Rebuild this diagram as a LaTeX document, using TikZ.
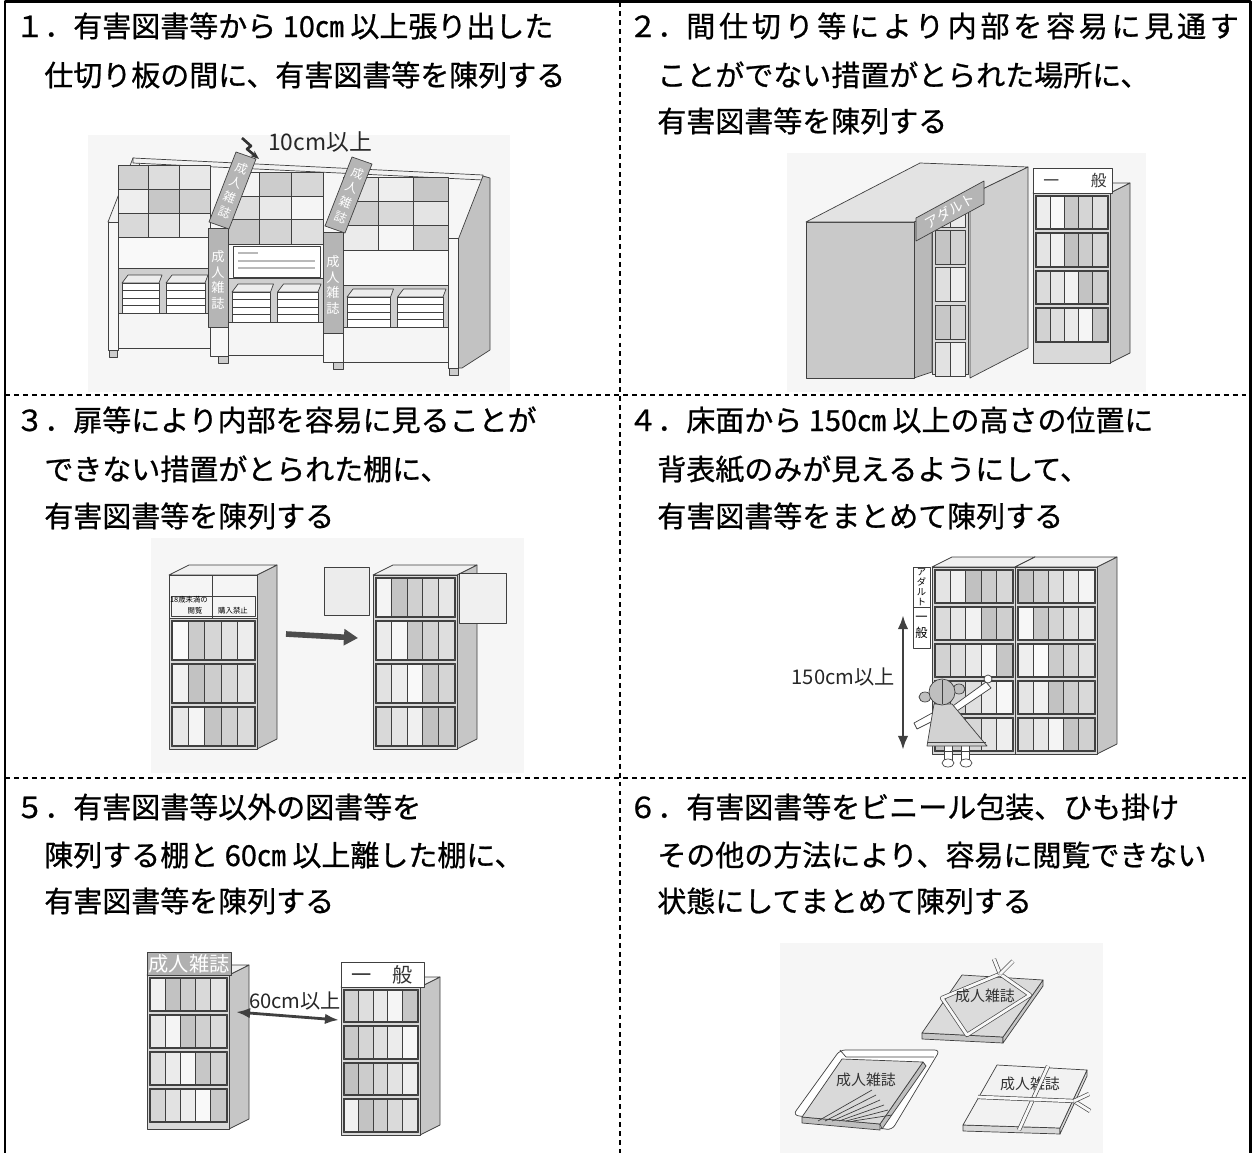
\documentclass[tikz,border=0pt]{standalone}
\usepackage{fontspec}
\setmainfont{Noto Sans CJK JP}
\newfontfamily\headfamily[FakeBold=0.8]{Noto Sans CJK JP}
\newfontfamily\spacedfont[LetterSpace=13, FakeBold=0.8]{Noto Sans CJK JP}
\usetikzlibrary{arrows.meta, positioning}

\newcommand{\headfont}{\headfamily\fontsize{16.5pt}{20pt}\selectfont}
\newcommand{\labfont}{\fontsize{11.5pt}{13pt}\selectfont}

\newcommand{\cabinet}[7]{%
  \pgfmathsetmacro{\cabh}{#4*#5+#7}
  \filldraw[edge, fill=gray!45] (#1+#3,#2) -- ++(20,-10) -- ++(0,\cabh) -- ++(-20,10) -- cycle;
  \filldraw[edge, fill=gray!12] (#1,#2) -- ++(20,-10) -- ++(#3,0) -- ++(-20,10) -- cycle;
  \filldraw[edge, fill=gray!30] (#1,#2) rectangle ++(#3,\cabh);
  \foreach \rw in {1,...,#4}{
    \draw[edge] (#1+2,{#2+2+(\rw-1)*#5}) rectangle ++(#3-4,#5-3);
    \foreach \bk in {1,...,5}{
      \pgfmathtruncatemacro{\tone}{mod(\bk*37+\rw*53+#6*29,46)+4}
      \filldraw[edge, fill=gray!\tone] ({#1+3+(\bk-1)*(#3-6)/5},{#2+3+(\rw-1)*#5}) rectangle ++({(#3-6)/5},#5-5);
    }
  }
}

\begin{document}
\begin{tikzpicture}[x=0.02cm, y=-0.02cm, line join=round,
    head/.style={anchor=base west, inner sep=0pt, font=\headfont},
    lab/.style={inner sep=0pt, font=\labfont, text=black!85},
    edge/.style={draw=black!75, line width=0.4pt},
    bgpaper/.style={fill=gray!7},
    vtext/.style={align=center, inner sep=0pt},
    pkglab/.style={inner sep=0pt, font=\fontsize{8.5pt}{10pt}\selectfont, text=black!80},
    ribbon/.style={draw=black!70, double=gray!6, double distance=1.6pt, line width=0.4pt},
    fatarrow/.style={draw=black!70, line width=3.2pt, -{Triangle[length=8pt, width=9pt]}},
    gaparrow/.style={draw=black!75, line width=1.6pt, {Latex[length=8pt, width=6pt]}-{Latex[length=8pt, width=6pt]}},
    divider/.style={draw=black, line width=1pt, dash pattern=on 2.8pt off 2.3pt},
    frame/.style={draw=black, line width=1.4pt}]

\useasboundingbox (0,0) rectangle (1252,1153);

% texts
\node[head] (h1a) at (15,37) {１．有害図書等から 10㎝ 以上張り出した};
\node[head] (h1b) at (44,86) {仕切り板の間に、有害図書等を陳列する};
\node[head] (h2a) at (628,37) {２．{\spacedfont 間仕切り等により内部を容易に見通す}};
\node[head] (h2b) at (657,86) {ことがでない措置がとられた場所に、};
\node[head] (h2c) at (657,132) {有害図書等を陳列する};
\node[head] (h3a) at (15,431) {３．扉等により内部を容易に見ることが};
\node[head] (h3b) at (44,480) {できない措置がとられた棚に、};
\node[head] (h3c) at (44,527) {有害図書等を陳列する};
\node[head] (h4a) at (628,431) {４．床面から 150㎝ 以上の高さの位置に};
\node[head] (h4b) at (657,480) {背表紙のみが見えるようにして、};
\node[head] (h4c) at (657,527) {有害図書等をまとめて陳列する};
\node[head] (h5a) at (15,818) {５．有害図書等以外の図書等を};
\node[head] (h5b) at (44,866) {陳列する棚と 60㎝ 以上離した棚に、};
\node[head] (h5c) at (44,912) {有害図書等を陳列する};
\node[head] (h6a) at (628,818) {６．有害図書等をビニール包装、ひも掛け};
\node[head] (h6b) at (657,866) {その他の方法により、容易に閲覧できない};
\node[head] (h6c) at (657,912) {状態にしてまとめて陳列する};

% 1: magazine rack
\fill[bgpaper] (88,135) rectangle (510,392);
\filldraw[edge, fill=gray!10] (108,222) -- (133,158) -- (141,160) -- (118,224) -- cycle;
\filldraw[edge, fill=gray!10] (133,158) -- (483,175) -- (483,180) -- (133,163) -- cycle;
\foreach \xa/\xb/\ya/\yb/\yc/\yd/\ye/\yf/\yg [count=\bay] in
    {118/210/165/189/213/237/268/313/348, 228/323/172/196/219/244/278/322/355, 343/448/177/201/225/250/285/327/362}{
  \foreach \ta/\tb [count=\rw] in {\ya/\yb,\yb/\yc,\yc/\yd}{
    \foreach \m in {0,1,2}{
      \pgfmathtruncatemacro{\tone}{mod(\m*31+\rw*17+\bay*13,40)+6}
      \filldraw[edge, fill=gray!\tone] ({\xa+(\xb-\xa)*\m/3},\ta) rectangle ({\xa+(\xb-\xa)*(\m+1)/3},\tb);
    }
  }
  \filldraw[edge, fill=gray!5] (\xa,\yd) rectangle (\xb,\ye);
  \filldraw[edge, fill=gray!38] (\xa,\ye) rectangle (\xb,\yf);
  \filldraw[edge, fill=gray!8] (\xa,\yf) rectangle (\xb,\yg);
  \foreach \sa/\sb in {{\xa+4}/{(\xa+\xb)/2-2}, {(\xa+\xb)/2+2}/{\xb-2}}{
    \filldraw[edge, fill=gray!14] ({\sa},\yf-30) -- ({\sa+6},\yf-38) -- ({\sb},\yf-38) -- ({\sb-3},\yf-30) -- cycle;
    \filldraw[edge, fill=white] ({\sa},\yf-30) rectangle ({\sb-3},\yf);
    \foreach \q in {1,2,3} \draw[edge] ({\sa},\yf-30+\q*7.5) -- ({\sb-3},\yf-30+\q*7.5);
  }
}
\filldraw[edge, fill=gray!48] (458,240) -- (483,176) -- (490,178) -- (490,350) -- (462,368) -- (458,368) -- cycle;
\filldraw[edge, fill=gray!6] (108,222) rectangle (118,350);
\filldraw[edge, fill=gray!6] (210,237) rectangle (228,356);
\filldraw[edge, fill=gray!6] (323,244) rectangle (343,362);
\filldraw[edge, fill=gray!6] (448,238) rectangle (458,368);
\filldraw[edge, fill=gray!40] (109,350) rectangle (117,357);
\filldraw[edge, fill=gray!40] (218,356) rectangle (228,363);
\filldraw[edge, fill=gray!40] (333,362) rectangle (343,369);
\filldraw[edge, fill=gray!40] (449,368) rectangle (458,375);
\filldraw[edge, fill=white] (233,246) rectangle (320,277);
\draw[gray!55, line width=1pt] (238,253) -- (258,253);
\foreach \yy in {261,268} \draw[gray!55, line width=1pt] (238,\yy) -- (315,\yy);
\filldraw[edge, fill=gray!58] (208,228) rectangle (228,327);
\filldraw[edge, fill=gray!58] (209,222) -- (236,152) -- (256,159) -- (229,229) -- cycle;
\filldraw[edge, fill=gray!58] (323,232) rectangle (343,333);
\filldraw[edge, fill=gray!58] (325,226) -- (352,157) -- (372,164) -- (345,233) -- cycle;
\node[vtext, text=white, font=\fontsize{7.5pt}{9pt}\selectfont] (board1) at (218,280) {成\\人\\雑\\誌};
\node[vtext, text=white, font=\fontsize{7.5pt}{9pt}\selectfont] (board2) at (333,285) {成\\人\\雑\\誌};
\node[vtext, text=white, font=\fontsize{7pt}{9pt}\selectfont, rotate=-21] (fin1) at (233,190) {成\\人\\雑\\誌};
\node[vtext, text=white, font=\fontsize{7pt}{9pt}\selectfont, rotate=-21] (fin2) at (349,195) {成\\人\\雑\\誌};
\node[lab, font=\fontsize{13pt}{15pt}\selectfont] (lab1) at (320,142) {10cm以上};
\coordinate (tick1) at (242,138);
\coordinate (fintop1) at (259,159);
\draw[draw=black!80, line width=1.5pt, -{Stealth[length=5pt]}] (tick1) -- ++(9,8) -- ++(-4,3) -- (fintop1);

% 2: enclosed corner
\fill[bgpaper] (787,153) rectangle (1146,392);
\filldraw[edge, fill=gray!30] (932,205) rectangle (968,374);
\foreach \yy [count=\rw] in {193,230,267,305,342}{
  \foreach \bk in {0,1}{
    \pgfmathtruncatemacro{\tone}{mod(\bk*29+\rw*19,40)+8}
    \filldraw[edge, fill=gray!\tone] ({935+\bk*15},\yy) rectangle ++(15,34);
  }
}
\filldraw[edge, fill=gray!55] (914,222) -- (932,213) -- (932,372) -- (914,378) -- cycle;
\filldraw[edge, fill=gray!38] (970,195) -- (1028,167) -- (1028,348) -- (970,378) -- cycle;
\filldraw[edge, fill=gray!42] (806,222) rectangle (914,378);
\filldraw[edge, fill=gray!22] (806,222) -- (920,163) -- (1028,167) -- (914,222) -- cycle;
\filldraw[edge, fill=gray!58] (916,218) -- (984,181) -- (984,204) -- (916,241) -- cycle;
\node[inner sep=0pt, text=white, font=\fontsize{8pt}{9pt}\selectfont, rotate=29] (adult2) at (950,211) {アダルト};
\cabinet{1033}{193}{77}{4}{37.5}{2}{20}
\filldraw[edge, fill=white] (1033,168) rectangle (1112,193);
\node[inner sep=0pt, font=\fontsize{9pt}{10pt}\selectfont, text=black!80] (gen2) at (1075,181) {一　　般};

% 3: shelves with doors
\fill[bgpaper] (151,538) rectangle (524,773);
\cabinet{169}{575}{88}{4}{43}{3}{2}
\filldraw[edge, fill=gray!8] (169,575) rectangle (257,618);
\draw[edge] (212,575) -- (212,618);
\draw[edge] (171,596) rectangle (255,616);
\node[inner sep=0pt, font=\fontsize{4.2pt}{5pt}\selectfont] (kid3) at (189,600) {18歳未満の};
\node[inner sep=0pt, font=\fontsize{4.2pt}{5pt}\selectfont] (ban3a) at (195,611) {閲覧};
\node[inner sep=0pt, font=\fontsize{4.2pt}{5pt}\selectfont] (ban3b) at (233,611) {購入禁止};
\cabinet{373}{575}{84}{4}{43}{5}{2}
\filldraw[edge, fill=gray!15] (324,567) rectangle (369,615);
\filldraw[edge, fill=gray!12] (459,573) rectangle (506,623);
\coordinate (shut3) at (286,634);
\coordinate (open3) at (358,638);
\draw[fatarrow] (shut3) -- (open3);

% 4: high shelves
\cabinet{932}{567}{83}{5}{37}{7}{2}
\cabinet{1015}{567}{82}{5}{37}{11}{2}
\filldraw[edge, fill=white] (913,567) rectangle (930,648);
\draw[edge] (913,607) -- (930,607);
\node[vtext, font=\fontsize{5.3pt}{5.6pt}\selectfont] (adult4) at (921.5,587) {ア\\ダ\\ル\\ト};
\node[vtext, font=\fontsize{7pt}{9pt}\selectfont] (gen4) at (921.5,627) {一\\般};
\coordinate (h4top) at (903,615);
\coordinate (h4bot) at (903,750);
\coordinate (h4mid) at (903,677);
\draw[gaparrow] (h4top) -- (h4bot);
\node[lab, left=0.16cm of h4mid] (lab4) {150cm以上};
\filldraw[edge, fill=white] (950,708) -- (986,682) -- (991,688) -- (954,713) -- cycle;
\filldraw[edge, fill=white] (988,679) circle (4);
\filldraw[edge, fill=white] (934,712) -- (914,723) -- (917,729) -- (937,719) -- cycle;
\filldraw[edge, fill=white] (944,742) rectangle (952,760);
\filldraw[edge, fill=white] (961,742) rectangle (969,760);
\draw[edge] (944,751) -- (952,751) (961,751) -- (969,751);
\filldraw[edge, fill=white] (948,763) ellipse (6 and 4);
\filldraw[edge, fill=white] (966,763) ellipse (6 and 4);
\filldraw[edge, fill=gray!35] (934,704) -- (952,704) -- (987,746) -- (927,746) -- cycle;
\draw[edge] (928,742) -- (986,742);
\filldraw[edge, fill=gray!50] (925,697) ellipse (6 and 5);
\filldraw[edge, fill=gray!50] (959,689) ellipse (6 and 5);
\filldraw[edge, fill=gray!50] (942,692) circle (13);
\draw[edge] (942,680) -- (942,704);

% 5: separated shelves
\cabinet{147}{975}{82}{4}{37}{13}{6}
\filldraw[edge, fill=gray!62] (147,952) rectangle (231,975);
\node[inner sep=0pt, font=\labfont, text=white] (adult5) at (189,964) {成人雑誌};
\cabinet{341}{987}{79}{4}{36.5}{17}{2}
\filldraw[edge, fill=white] (341,962) rectangle (424,987);
\node[inner sep=0pt, font=\labfont, text=black!80] (gen5) at (382,975) {一　般};
\coordinate (gapl) at (236,1012);
\coordinate (gapr) at (339,1020);
\draw[gaparrow] (gapl) -- (gapr);
\node[lab] (lab5) at (295,1001) {60cm以上};

% 6: wrapped magazines
\fill[bgpaper] (780,943) rectangle (1103,1153);
\filldraw[edge, fill=gray!45] (922,1033) -- (1003,1037) -- (1003,1043) -- (922,1039) -- cycle;
\filldraw[edge, fill=gray!45] (1003,1037) -- (1043,980) -- (1043,986) -- (1003,1043) -- cycle;
\filldraw[edge, fill=gray!28] (922,1033) -- (962,975) -- (1043,980) -- (1003,1037) -- cycle;
\draw[ribbon] (1000,974) -- (1030,995) -- (967,1035) -- (942,998) -- cycle;
\draw[ribbon] (1000,974) -- (994,959);
\draw[ribbon] (1000,974) -- (1013,961);
\node[pkglab] (pk1) at (985,996) {成人雑誌};
\filldraw[edge, fill=white, rounded corners=3pt] (793,1115) -- (840,1050) -- (940,1050) -- (892,1130) -- cycle;
\draw[edge] (840,1050) -- (846,1057) -- (934,1057);
\filldraw[edge, fill=gray!50] (802,1117) -- (880,1124) -- (880,1130) -- (802,1123) -- cycle;
\filldraw[edge, fill=gray!50] (880,1124) -- (923,1062) -- (926,1066) -- (882,1129) -- cycle;
\filldraw[edge, fill=gray!30] (802,1117) -- (842,1059) -- (923,1062) -- (880,1124) -- cycle;
\foreach \k in {0,...,5} \draw[edge] ({818+\k*7},1121) -- ({872+\k*4},{1090+\k*5});
\node[pkglab] (pk2) at (866,1080) {成人雑誌};
\filldraw[edge, fill=gray!30] (963,1125) -- (1060,1128) -- (1060,1134) -- (963,1131) -- cycle;
\filldraw[edge, fill=gray!30] (1060,1128) -- (1087,1070) -- (1087,1076) -- (1060,1134) -- cycle;
\filldraw[edge, fill=gray!10] (963,1125) -- (997,1065) -- (1087,1070) -- (1060,1128) -- cycle;
\node[pkglab] (pk3) at (1030,1084) {成人雑誌};
\draw[ribbon] (1048,1066) -- (1019,1130);
\draw[ribbon] (978,1097) -- (1074,1101);
\draw[ribbon] (1074,1101) -- (1090,1111);
\draw[ribbon] (1074,1101) -- (1089,1094);

% frame
\draw[divider] (620,2) -- (620,1153);
\draw[divider] (5,395) -- (1250,395);
\draw[divider] (5,778) -- (1250,778);
\draw[frame] (5,1.5) rectangle (1250.5,1162);

\end{tikzpicture}
\end{document}
